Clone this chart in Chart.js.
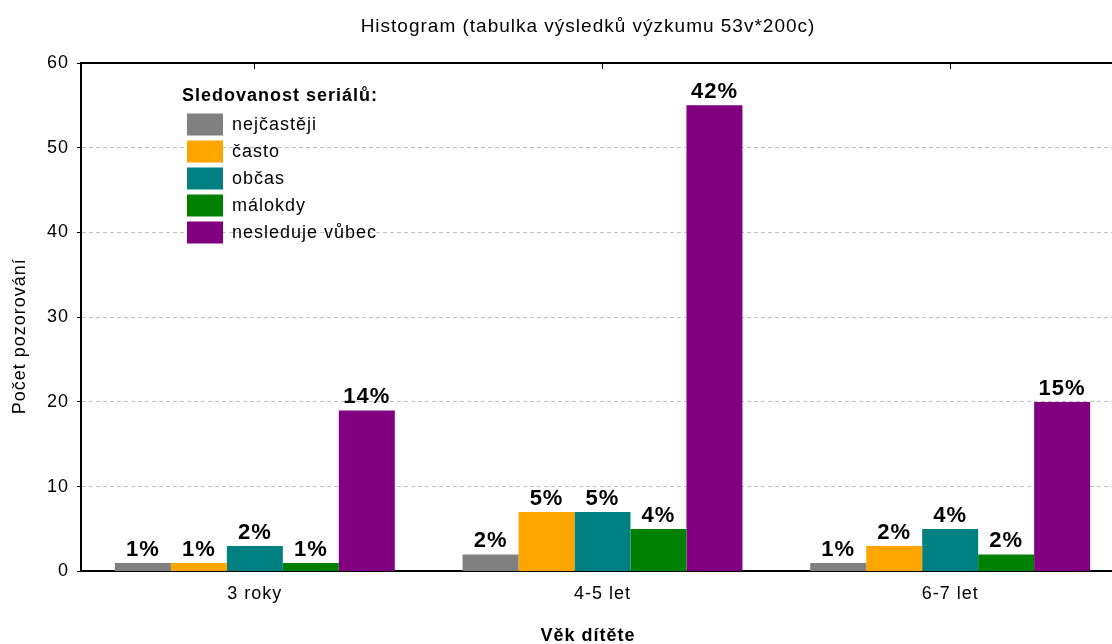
<!DOCTYPE html>
<html lang="cs">
<head>
<meta charset="UTF-8">
<title>Histogram</title>
<style>
    html, body { margin: 0; padding: 0; overflow: hidden; background: #fff; }
    #chart-box { width: 1176px; height: 644px; }
</style>
</head>
<body>
<div id="chart-box"><canvas id="histogram"></canvas></div>

<script src="https://cdn.jsdelivr.net/npm/chart.js"></script>
<script>
    // categories
    const ageGroups = ['3 roky', '4-5 let', '6-7 let'];
    const seriesNames = ['nejčastěji', 'často', 'občas', 'málokdy', 'nesleduje vůbec'];

    // counts per series
    const nejcasteji = [1, 2, 1];
    const casto = [1, 7, 3];
    const obcas = [3, 7, 5];
    const malokdy = [1, 5, 2];
    const nesleduje = [19, 55, 20];

    // percentage labels above bars
    const pctNejcasteji = ['1%', '2%', '1%'];
    const pctCasto = ['1%', '5%', '2%'];
    const pctObcas = ['2%', '5%', '4%'];
    const pctMalokdy = ['1%', '4%', '2%'];
    const pctNesleduje = ['14%', '42%', '15%'];

    const seriesValues = [nejcasteji, casto, obcas, malokdy, nesleduje];
    const seriesPct = [pctNejcasteji, pctCasto, pctObcas, pctMalokdy, pctNesleduje];
    const seriesColors = ['#808080', '#FFA500', '#008080', '#008000', '#800080'];

    Chart.defaults.font.family = "'Liberation Sans', Arial, sans-serif";
    Chart.defaults.font.size = 18;
    Chart.defaults.color = '#000';

    // wider letter spacing like the original export
    const spacing = {
        id: 'spacing',
        beforeUpdate(chart) { chart.ctx.letterSpacing = '1px'; },
        beforeDraw(chart) { chart.ctx.letterSpacing = '1px'; }
    };

    // put the legend inside the plot, top left
    const legendSpot = {
        id: 'legendSpot',
        afterLayout(chart) {
            const area = chart.chartArea;
            chart.legend.left = area.left + 101;
            chart.legend.top = area.top + 21;
        }
    };

    const pctLabels = {
        id: 'pctLabels',
        afterDatasetsDraw(chart) {
            const ctx = chart.ctx;
            ctx.save();
            ctx.font = "bold 22px 'Liberation Sans', Arial, sans-serif";
            ctx.fillStyle = '#000';
            ctx.textAlign = 'center';
            ctx.textBaseline = 'alphabetic';
            chart.data.datasets.forEach((ds, i) => {
                chart.getDatasetMeta(i).data.forEach((bar, j) => {
                    ctx.fillText(seriesPct[i][j], bar.x, bar.y - 7);
                });
            });
            ctx.restore();
        }
    };

    const datasets = seriesNames.map((name, i) => ({
        label: name,
        data: seriesValues[i],
        backgroundColor: seriesColors[i],
        borderWidth: 0,
        categoryPercentage: 0.805,
        barPercentage: 1.0
    }));

    new Chart(document.getElementById('histogram'), {
        type: 'bar',
        data: { labels: ageGroups, datasets: datasets },
        options: {
            responsive: true,
            maintainAspectRatio: false,
            animation: false,
            plugins: {
                title: {
                    display: true,
                    text: 'Histogram (tabulka výsledků výzkumu 53v*200c)',
                    color: '#000',
                    font: { size: 19, weight: 'normal' },
                    padding: { top: 15.6, bottom: 24.6 }
                },
                subtitle: {
                    display: true,
                    position: 'bottom',
                    text: 'Věk dítěte',
                    color: '#000',
                    font: { size: 18, weight: 'bold' },
                    padding: { top: 0, bottom: -3 }
                },
                legend: {
                    position: 'chartArea',
                    align: 'start',
                    labels: { boxWidth: 36, boxHeight: 22, padding: 5, color: '#000', font: { size: 18 } },
                    title: {
                        display: true,
                        text: 'Sledovanost seriálů:',
                        color: '#000',
                        position: 'start',
                        font: { size: 18, weight: 'bold' },
                        padding: { top: 3, bottom: 0 }
                    }
                },
                tooltip: { enabled: false }
            },
            scales: {
                x: {
                    type: 'category',
                    position: 'bottom',
                    offset: true,
                    grid: { display: true, offset: false, drawOnChartArea: false, tickLength: -6, tickColor: '#000', color: '#000' },
                    border: { display: true, color: '#000', width: 2 },
                    ticks: { color: '#000', padding: 18 },
                    afterFit: s => { s.height = 54; }
                },
                xTop: {
                    type: 'category',
                    position: 'top',
                    offset: true,
                    grid: { display: true, offset: false, drawOnChartArea: false, tickLength: -6, tickColor: '#000', color: '#000' },
                    border: { display: true, color: '#000', width: 2 },
                    ticks: { display: false },
                    afterFit: s => { s.height = 0; }
                },
                y: {
                    min: 0,
                    max: 60,
                    ticks: { stepSize: 10, padding: 8, color: '#000' },
                    grid: { color: '#c0c0c0', lineWidth: 1, tickColor: '#000', tickLength: 4 },
                    border: { display: true, color: '#000', width: 2, dash: [4, 3] },
                    title: {
                        display: true,
                        text: 'Počet pozorování\u2003\u2003',
                        color: '#000',
                        font: { size: 18 },
                        padding: { top: 9, bottom: 0 }
                    },
                    afterFit: s => { s.width = 81; }
                },
                yPad: {
                    type: 'linear',
                    position: 'right',
                    display: true,
                    ticks: { display: false },
                    grid: { display: false },
                    border: { display: false },
                    afterFit: s => { s.width = 52; }
                }
            }
        },
        plugins: [spacing, legendSpot, pctLabels]
    });
</script>
</body>
</html>
